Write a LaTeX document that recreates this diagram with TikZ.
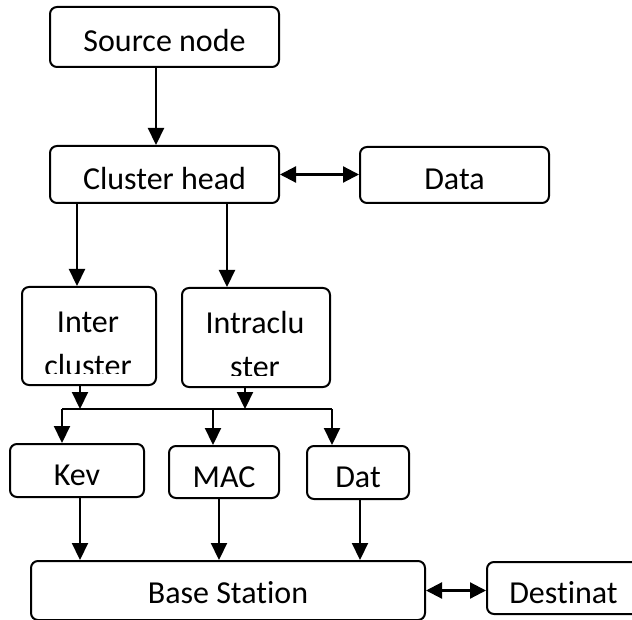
\documentclass[tikz,border=0pt]{standalone}
\usepackage{fontspec}
\setmainfont{Carlito}[Ligatures=NoCommon]
\usetikzlibrary{arrows.meta}

\begin{document}
\begin{tikzpicture}[x=1pt,y=-1pt,font=\fontsize{32}{44}\selectfont]

    \tikzset{
      box/.style={
        draw,
        line width=2pt,
        rounded corners=7pt,
        inner sep=0pt,
        text height=30pt,
        text depth=0pt,
      },
      wrap/.style={
        align=center,
        inner sep=0pt,
        font=\fontsize{32}{44}\selectfont,
      },
      link/.style={
        line width=2.2pt,
      },
      arr/.style={
        link,
        -{Triangle[length=17pt,width=16pt]},
      },
      dblarr/.style={
        link,
        {Triangle[length=16pt,width=16pt]}-{Triangle[length=16pt,width=16pt]},
      },
    }
    \useasboundingbox (0,0) rectangle (632,620);
    \clip (0,0) rectangle (632,620);

	\node[box, minimum width=229pt, minimum height=60pt] (src) at (164.5,37) {Source node};
	\node[box, minimum width=229pt, minimum height=57pt] (head) at (164.5,174.5) {Cluster head};
	\node[box, minimum width=189pt, minimum height=56pt] (data) at (454.5,175) {Data};
	\node[box, minimum width=134pt, minimum height=98pt] (inter) at (89,336) {};
	\node[box, minimum width=148pt, minimum height=99pt] (intra) at (256,337.5) {};
	\node[box, minimum width=134pt, minimum height=53pt] (kev) at (77,470.5) {Kev};
	\node[box, minimum width=110pt, minimum height=52pt] (mac) at (224,472) {MAC};
	\node[box, minimum width=102pt, minimum height=53pt] (dat) at (358,472.5) {Dat};
	\node[box, minimum width=394pt, minimum height=59pt, text height=26pt] (base) at (228,590.5) {Base Station};
	\node[box, minimum width=153pt, minimum height=52pt] (dest) at (563.5,588) {Destinat};

	% text that overflows its box is cut off
	\begin{scope}
	  \clip (inter.north west) rectangle ([yshift=13pt]inter.south east);
	  \node[wrap] (intertext) at (88,344) {Inter\\cluster};
	\end{scope}
	\begin{scope}
	  \clip (intra.north west) rectangle ([yshift=13pt]intra.south east);
	  \node[wrap] (intratext) at (255,344.5) {Intraclu\\ster};
	\end{scope}

	\coordinate (srcout) at ([xshift=-8.5pt]src.south);
	\coordinate (headl) at ([xshift=-87.5pt]head.south);
	\coordinate (headr) at ([xshift=62.5pt]head.south);
	\coordinate (interout) at ([xshift=-9pt]inter.south);
	\coordinate (intraout) at ([xshift=-11pt]intra.south);
	\coordinate (busL) at ([xshift=-15pt]kev.north |- 0,409);
	\coordinate (busM) at ([xshift=-11pt]mac.north |- 0,409);
	\coordinate (busR) at ([xshift=-26pt]dat.north |- 0,409);
	\coordinate (kevout) at ([xshift=3pt]kev.south);
	\coordinate (macout) at ([xshift=-5pt]mac.south);
	\coordinate (datout) at ([xshift=2pt]dat.south);

	\draw[arr] (srcout) -- (srcout |- head.north);
	\draw[dblarr] (head.east) -- (head.east -| data.west);
	\draw[arr] (headl) -- (headl |- inter.north);
	\draw[arr] (headr) -- (headr |- intra.north);
	\draw[arr] (interout) -- (interout |- busL);
	\draw[arr] (intraout) -- (intraout |- busL);
	\draw[link] (busL) -- (busR);
	\draw[arr] (busL) -- (busL |- kev.north);
	\draw[arr] (busM) -- (busM |- mac.north);
	\draw[arr] (busR) -- (busR |- dat.north);
	\draw[arr] (kevout) -- (kevout |- base.north);
	\draw[arr] (macout) -- (macout |- base.north);
	\draw[arr] (datout) -- (datout |- base.north);
	\draw[dblarr] (base.east) -- (base.east -| dest.west);

\end{tikzpicture}
\end{document}
